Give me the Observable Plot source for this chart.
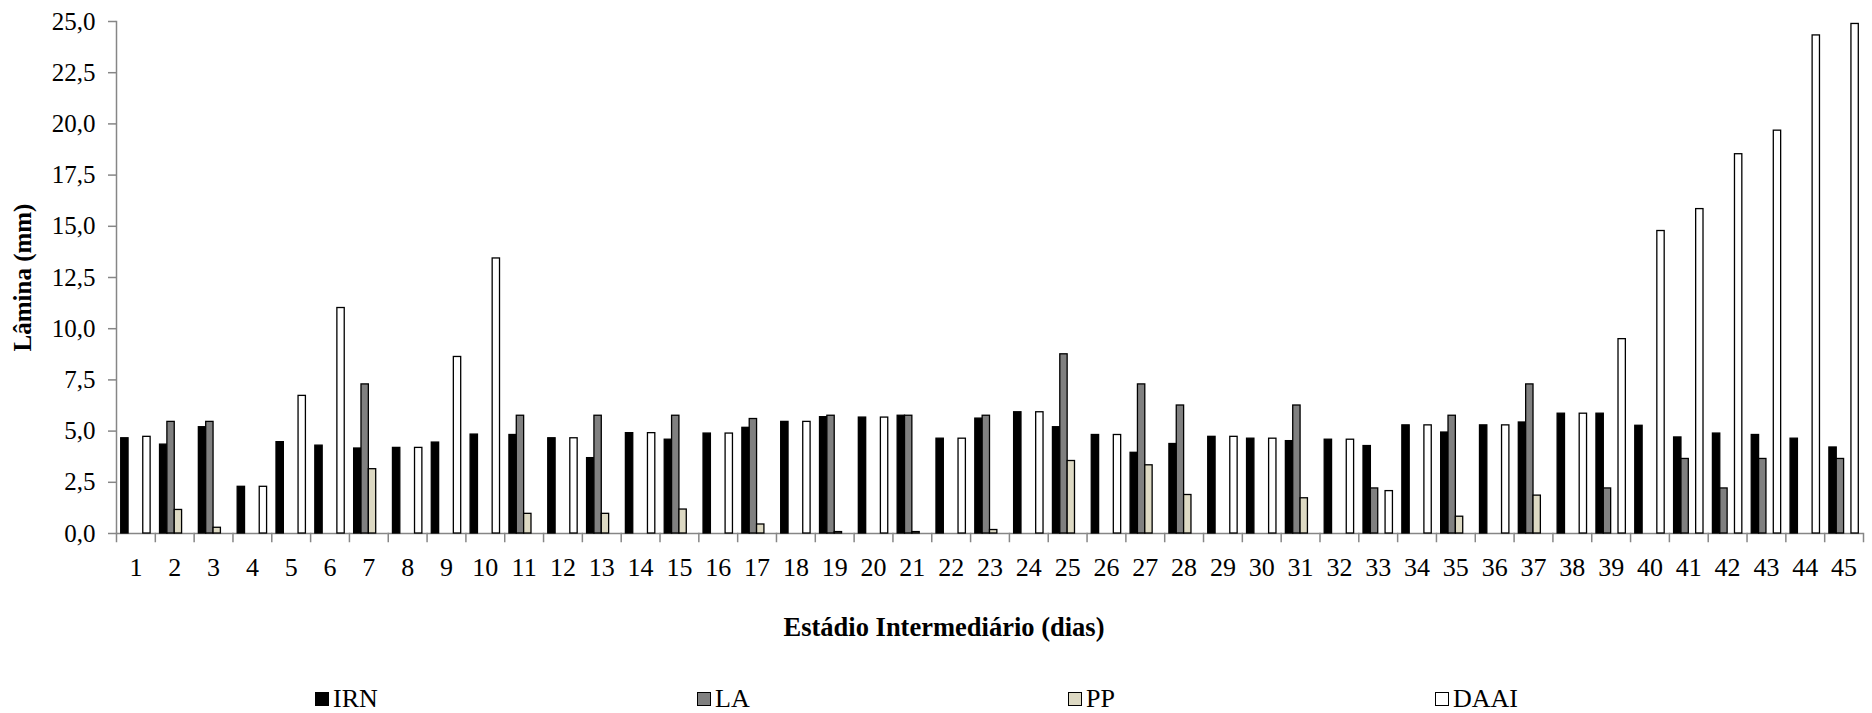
<!DOCTYPE html>
<html>
<head>
<meta charset="utf-8">
<script src="https://cdn.jsdelivr.net/npm/d3@7"></script>
<script src="https://cdn.jsdelivr.net/npm/@observablehq/plot@0.6"></script>
<style>
  body { margin: 0; background: #fff; font-family: "Liberation Serif", "DejaVu Serif", serif; }
  #wrap { position: relative; width: 1872px; height: 713px; overflow: hidden; }
  #xtitle { position: absolute; left: 944px; top: 611px; transform: translateX(-50%); font-weight: bold; font-size: 26.5px; line-height: 32px; white-space: nowrap; color: #000; }
  .leg { position: absolute; top: 683px; height: 32px; display: flex; align-items: center; font-size: 26px; color: #000; }
  .sw { width: 12px; height: 12px; border: 1.3px solid #000; margin-right: 4px; }
  svg text { font-family: "Liberation Serif", "DejaVu Serif", serif; }
  g[aria-label="y-axis label"] text { font-weight: bold; }
</style>
</head>
<body>
<div id="wrap">
  <div id="chart"></div>
  <div id="xtitle">Estádio Intermediário (dias)</div>
  <div id="legend"></div>
</div>
<script>
// ---- data ----
const days = Array.from({length: 45}, (_, i) => i + 1);
const seriesNames = ["IRN", "LA", "PP", "DAAI"];
const seriesColors = ["#000000", "#808080", "#ddd9c3", "#ffffff"];
const yTicks = [0, 2.5, 5, 7.5, 10, 12.5, 15, 17.5, 20, 22.5, 25];

const irn = [4.65, 4.34, 5.19, 2.28, 4.46, 4.29, 4.15, 4.18, 4.44, 4.83,
             4.81, 4.65, 3.68, 4.90, 4.58, 4.88, 5.16, 5.45, 5.68, 5.66,
             5.75, 4.63, 5.61, 5.92, 5.19, 4.81, 3.94, 4.37, 4.72, 4.63,
             4.51, 4.58, 4.27, 5.28, 4.93, 5.28, 5.42, 5.85, 5.85, 5.26,
             4.69, 4.88, 4.81, 4.63, 4.20];
const la = [null, 5.45, 5.45, null, null, null, 7.28, null, null, null,
            5.75, null, 5.75, null, 5.75, null, 5.59, null, 5.75, null,
            5.75, null, 5.75, null, 8.75, null, 7.28, 6.25, null, null,
            6.25, null, 2.20, null, 5.75, null, 7.28, null, 2.20, null,
            3.64, 2.20, 3.64, null, 3.64];
const pp = [null, 1.15, 0.28, null, null, null, 3.14, null, null, null,
            0.96, null, 0.96, null, 1.17, null, 0.44, null, 0.07, null,
            0.07, null, 0.17, null, 3.54, null, 3.33, 1.88, null, null,
            1.72, null, null, null, 0.82, null, 1.85, null, null, null,
            null, null, null, null, null];
const daai = [4.72, null, null, 2.28, 6.72, 11.01, null, 4.18, 8.62, 13.43,
              null, 4.65, null, 4.90, null, 4.88, null, 5.45, null, 5.66,
              null, 4.63, null, 5.92, null, 4.81, null, null, 4.72, 4.63,
              null, 4.58, 2.07, 5.28, null, 5.28, null, 5.85, 9.49, 14.77,
              15.84, 18.52, 19.67, 24.32, 24.88];

// ---- build table ----
const seriesArrays = [irn, la, pp, daai];
const table = [];
days.forEach((d, i) => {
  seriesArrays.forEach((arr, k) => {
    if (arr[i] != null) table.push({day: d, series: seriesNames[k], value: arr[i]});
  });
});

// ---- layout ----
const W = 1872, H = 600, ML = 116, MR = 9, MT = 21, MB = 67;
const frameH = H - MT - MB;
const grey = "#868686";

const chart = Plot.plot({
  width: W, height: H,
  marginLeft: ML, marginRight: MR, marginTop: MT, marginBottom: MB,
  style: {fontFamily: "Liberation Serif, DejaVu Serif, serif", fontSize: "25px", color: "#000", background: "#fff"},
  fx: {domain: days, padding: 0, round: false, label: null},
  x: {domain: seriesNames, paddingInner: 0, paddingOuter: 0.64, axis: null, round: false},
  y: {domain: [0, 25], label: null},
  color: {domain: seriesNames, range: seriesColors},
  marks: [
    Plot.frame({anchor: "left", facetAnchor: "left", stroke: grey, strokeWidth: 1.5}),
    Plot.frame({anchor: "left", insetTop: frameH, insetBottom: -8, stroke: grey, strokeWidth: 1.5}),
    Plot.frame({anchor: "right", facetAnchor: "right", insetTop: frameH, insetBottom: -8, stroke: grey, strokeWidth: 1.5}),
    Plot.ruleY([0], {stroke: grey, strokeWidth: 1.5}),
    Plot.barY(table, {fx: "day", x: "series", y: "value", fill: "series", stroke: "#000", strokeWidth: 1.3}),
    Plot.axisY({
      ticks: yTicks,
      tickFormat: d => d.toFixed(1).replace(".", ","),
      tickSize: 8, tickPadding: 13, stroke: grey, strokeWidth: 1.5,
      label: "Lâmina (mm)", labelAnchor: "center", labelArrow: "none", labelOffset: 103,
      fontSize: 25
    }),
    Plot.axisFx({anchor: "bottom", tickSize: 0, tickPadding: 24, label: null, fontSize: 26})
  ]
});
document.getElementById("chart").appendChild(chart);

// ---- legend ----
const legendLeft = [315, 697, 1068, 1435];
const legend = document.getElementById("legend");
seriesNames.forEach((name, k) => {
  const item = document.createElement("div");
  item.className = "leg";
  item.style.left = legendLeft[k] + "px";
  const sw = document.createElement("span");
  sw.className = "sw";
  sw.style.background = seriesColors[k];
  const tx = document.createElement("span");
  tx.textContent = name;
  item.appendChild(sw);
  item.appendChild(tx);
  legend.appendChild(item);
});
</script>
</body>
</html>
